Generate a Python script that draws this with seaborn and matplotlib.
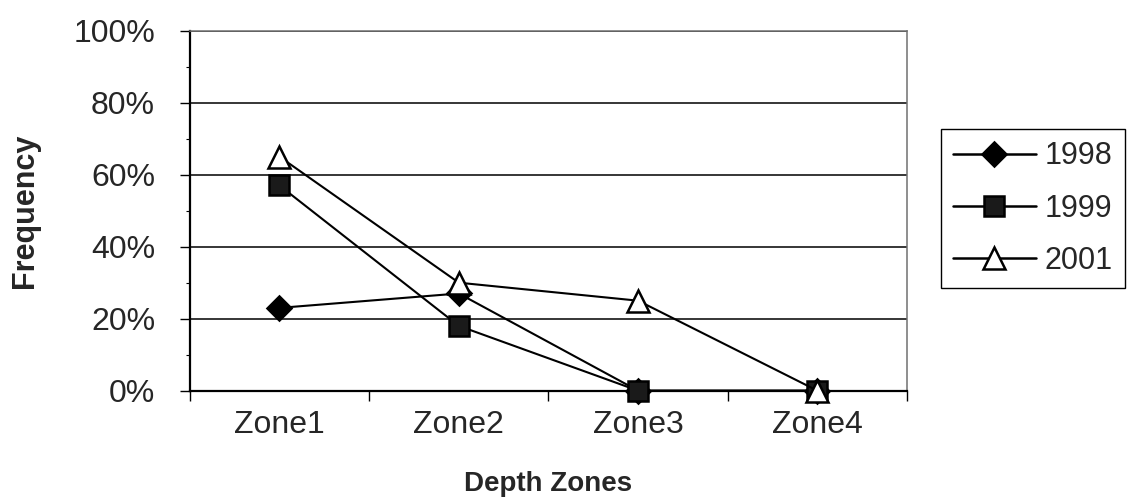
import numpy as np
import pandas as pd
import seaborn as sns
import matplotlib.pyplot as plt
from matplotlib.ticker import PercentFormatter, MultipleLocator

# Data (frequency in %)
zones = ['Zone1', 'Zone2', 'Zone3', 'Zone4']
years = ['1998', '1999', '2001']
freq_1998 = [23, 27, 0, 0]
freq_1999 = [57, 18, 0, 0]
freq_2001 = [65, 30, 25, 0]

rows = []
for yr, vals in zip(years, [freq_1998, freq_1999, freq_2001]):
    for i, v in enumerate(vals):
        rows.append({'pos': i, 'zone': zones[i], 'year': yr, 'freq': v})
DF = pd.DataFrame(rows)

sns.set_style('white')
plt.rcParams['font.family'] = ['Liberation Sans', 'DejaVu Sans']

fig, ax = plt.subplots(figsize=(11.3, 5.01), dpi=100)
fig.subplots_adjust(left=0.168, right=0.8027, bottom=0.2202, top=0.9387)

sns.lineplot(data=DF, x='pos', y='freq', hue='year', style='year',
             palette=['black'] * 3, markers={'1998': 'D', '1999': 's', '2001': '^'},
             dashes=False, linewidth=1.5, legend=False, ax=ax)

# marker looks (diamond, square, triangle)
sizes = [12.5, 14.5, 16]
faces = ['black', '#1a1a1a', 'white']
for k, (line, lab, ms, fc) in enumerate(zip(ax.lines, years, sizes, faces)):
    line.set_label(lab)
    line.set_markersize(ms)
    line.set_markerfacecolor(fc)
    line.set_markeredgecolor('black')
    line.set_markeredgewidth(1.8)
    line.set_clip_on(False)
    line.set_zorder(3 + k)

# axes
ax.set_xlim(-0.5, 3.5)
ax.set_ylim(0, 100)
ax.yaxis.set_major_locator(MultipleLocator(20))
ax.yaxis.set_minor_locator(MultipleLocator(10))
ax.yaxis.set_major_formatter(PercentFormatter(decimals=0))
ax.set_xticks(range(len(zones)))
ax.set_xticklabels(zones)
ax.set_xticks(np.arange(-0.5, 4, 1), minor=True)

ax.tick_params(axis='x', which='major', length=0, pad=14, labelsize=23)
ax.tick_params(axis='x', which='minor', length=7, width=1, color='black', direction='out')
ax.tick_params(axis='y', which='major', length=7, width=1, pad=18, labelsize=23, color='black', direction='out')
ax.tick_params(axis='y', which='minor', length=3, width=0.8, color='black', direction='out')
ax.tick_params(left=True, bottom=True)
ax.tick_params(which='minor', left=True, bottom=True)

ax.grid(axis='y', which='major', color='black', linewidth=1.1)
ax.set_axisbelow(True)

for side in ['left', 'bottom']:
    ax.spines[side].set_color('black')
    ax.spines[side].set_linewidth(1.6)
for side in ['top', 'right']:
    ax.spines[side].set_color('#707070')
    ax.spines[side].set_linewidth(1.1)

ax.set_xlabel('Depth Zones', fontsize=20, fontweight='bold', labelpad=22)
ax.set_ylabel('Frequency', fontsize=22, fontweight='bold', labelpad=24)

leg = fig.legend(handles=ax.lines, labels=years, loc='upper left',
                 bbox_to_anchor=(0.8327, 0.7425), fontsize=22, frameon=True,
                 fancybox=False, framealpha=1, edgecolor='black',
                 handlelength=2.7, labelspacing=0.73, borderpad=0.4,
                 handletextpad=0.3, borderaxespad=0)
leg.get_frame().set_linewidth(1.0)
for h in leg.legend_handles:
    h.set_linewidth(1.8)

plt.savefig('out.png', dpi=100)
